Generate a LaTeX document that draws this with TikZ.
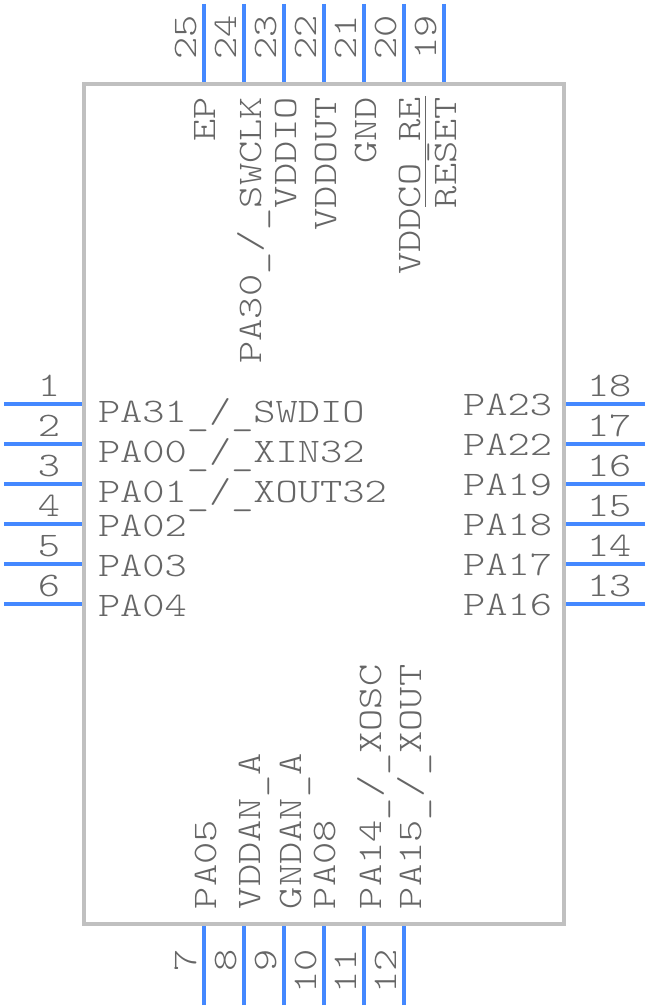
\documentclass[tikz,border=0pt]{standalone}
\usepackage{fontspec}
\newfontfamily\lab[FakeStretch=1.23]{Latin Modern Mono Light}
\newcommand{\usc}{\raisebox{-3.5pt}{\_}}
\definecolor{pinblue}{HTML}{4488FF}
\definecolor{boxgray}{HTML}{C0C0C0}
\definecolor{txtgray}{HTML}{666666}
\tikzset{
  pinline/.style={draw=pinblue,line width=4pt},
  chipbox/.style={draw=boxgray,line width=4pt},
  lbl/.style={inner sep=0pt,outer sep=0pt,text=txtgray,font=\lab\fontsize{34.4}{36}\selectfont},
  lw/.style={lbl,anchor=base west},
  le/.style={lbl,anchor=base east},
  vw/.style={lbl,anchor=base west,rotate=90},
  ve/.style={lbl,anchor=base east,rotate=90},
}
\begin{document}
\begin{tikzpicture}[x=1pt,y=-1pt]
\useasboundingbox (0,0) rectangle (648,1008);
\fill[white] (0,0) rectangle (648,1008);
% pins
\foreach \n/\yy in {1/404,2/444,3/484,4/524,5/564,6/604}{
  \coordinate (a\n) at (4,\yy); \coordinate (b\n) at (82,\yy);
  \draw[pinline] (a\n) -- (b\n);
}
\foreach \n/\yy in {18/404,17/444,16/484,15/524,14/564,13/604}{
  \coordinate (a\n) at (645,\yy); \coordinate (b\n) at (566,\yy);
  \draw[pinline] (a\n) -- (b\n);
}
\foreach \n/\xx in {25/204,24/244,23/284,22/324,21/364,20/404,19/444}{
  \coordinate (a\n) at (\xx,4); \coordinate (b\n) at (\xx,82);
  \draw[pinline] (a\n) -- (b\n);
}
\foreach \n/\xx in {7/204,8/244,9/284,10/324,11/364,12/404}{
  \coordinate (a\n) at (\xx,1005); \coordinate (b\n) at (\xx,926);
  \draw[pinline] (a\n) -- (b\n);
}
\coordinate (boxa) at (84,84); \coordinate (boxb) at (564,924);
\draw[chipbox] (boxa) rectangle (boxb);
% pin numbers
\foreach \n/\yy in {1/396,2/436,3/476,4/516,5/556,6/596}{
  \node[le] (n\n) at (60,\yy) {\n};
}
\foreach \n/\yy in {18/396,17/436,16/476,15/516,14/556,13/596}{
  \node[lw] (n\n) at (587,\yy) {\n};
}
\foreach \n/\xx in {25/196,24/236,23/276,22/316,21/356,20/396,19/436}{
  \node[ve] (n\n) at (\xx,15) {\n};
}
\foreach \n/\xx in {7/196,8/236,9/276,10/316,11/356,12/396}{
  \node[ve] (n\n) at (\xx,949) {\n};
}
% left labels
\node[lw] (l1) at (98,422) {PA31\usc/\usc SWDIO};
\node[lw] (l2) at (98,462) {PA00\usc/\usc XIN32};
\node[lw] (l3) at (98,502) {PA01\usc/\usc XOUT32};
\node[lw] (l4) at (98,536) {PA02};
\node[lw] (l5) at (98,576) {PA03};
\node[lw] (l6) at (98,616) {PA04};
% right labels
\node[le] (r18) at (552,415) {PA23};
\node[le] (r17) at (552,455) {PA22};
\node[le] (r16) at (552,495) {PA19};
\node[le] (r15) at (552,535) {PA18};
\node[le] (r14) at (552,575) {PA17};
\node[le] (r13) at (552,615) {PA16};
% top labels
\node[ve] (t25) at (215,97) {EP};
\node[ve] (t24) at (261,97) {PA30\usc/\usc SWCLK};
\node[ve] (t23) at (296,97) {VDDIO};
\node[ve] (t22) at (336,97) {VDDOUT};
\node[ve] (t21) at (376,97) {GND};
\node[ve] (t20) at (420,97) {VDDCO\usc RE};
\node[ve] (t19) at (456,97) {RESET};
\coordinate (ovb) at (425.7,96); \coordinate (ove) at (425.7,207);
\draw[txtgray,line width=1.5pt] (ovb) -- (ove);
% bottom labels
\node[vw] (b7) at (216,909) {PA05};
\node[vw] (b8) at (260,909) {VDDAN\usc A};
\node[vw] (b9) at (301,909) {GNDAN\usc A};
\node[vw] (b10) at (335,909) {PA08};
\node[vw] (b11) at (381,909) {PA14\usc/\usc XOSC};
\node[vw] (b12) at (421.5,909) {PA15\usc/\usc XOUT};
\end{tikzpicture}
\end{document}
